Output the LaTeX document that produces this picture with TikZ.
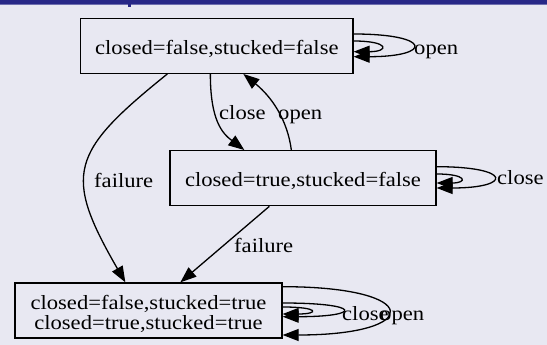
\documentclass[tikz,border=0pt]{standalone}
\usepackage{fontspec}
\setmainfont{Liberation Serif}[FakeStretch=1.12]
\usetikzlibrary{arrows.meta,calc}
\definecolor{bgc}{RGB}{232,232,242}
\definecolor{band}{RGB}{40,40,135}
\definecolor{bandlight}{RGB}{110,110,175}
\begin{document}
\begin{tikzpicture}[x=1pt,y=-1pt,
  every node/.style={font=\fontsize{20.2}{20.5}\selectfont},
  box/.style={draw, line width=1.3pt, inner sep=0pt, minimum height=55pt},
  lbl/.style={inner sep=0pt, anchor=base west},
  edge/.style={line width=1.3pt, -{Triangle[length=16pt,width=12pt]}}]
\useasboundingbox (0,0) rectangle (547,345);
\fill[bgc] (0,0) rectangle (547,345);
\fill[band] (0,0) rectangle (547,4.3);
\fill[bandlight] (0,4.3) rectangle (547,5.3);
\fill[band] (127.7,4) rectangle (130.8,6.8);
% states
\node[box, minimum width=272.3pt] (T) at (216.85,45.8) {\smash{\raisebox{-9pt}{closed=false,stucked=false}}};
\node[box, minimum width=266pt] (M) at (303,178.2) {\smash{\raisebox{-8.5pt}{closed=true,stucked=false}}};
\node[box, minimum width=267pt] (B) at (148.5,310.5) {\smash{\raisebox{1.5pt}{\begin{tabular}[t]{@{}c@{}}closed=false,stucked=true\\closed=true,stucked=true\end{tabular}}}};
% transitions between states
\draw[edge] ($(T.south west)+(130.3,0)$) .. controls +(0,46.7) and +(-22,-16.7) .. ($(M.north west)+(75,0)$);
\draw[edge] ($(M.north west)+(122,0)$) .. controls +(-4,-30.7) and +(28,22.7) .. ($(T.south west)+(163.3,0)$);
\draw[edge] ($(T.south west)+(87.3,0)$) .. controls +(-97.5,78.5) and +(-62.5,-108.2) .. ($(B.north west)+(111,0)$);
\draw[edge] ($(M.south west)+(100,0)$) -- ($(B.north west)+(166,0)$);
% self loops
\draw[edge] ($(T.east)+(0,-11.8)$) .. controls +(79,0) and +(79,0) .. ($(T.east)+(0,10.9)$);
\draw[edge] ($(T.east)+(0,-4.8)$) .. controls +(36,0) and +(36,0) .. ($(T.east)+(0,5.9)$);
\draw[edge] ($(M.east)+(0,-11.5)$) .. controls +(76,0) and +(76,0) .. ($(M.east)+(0,9.8)$);
\draw[edge] ($(M.east)+(0,-4.2)$) .. controls +(31,0) and +(31,0) .. ($(M.east)+(0,4.8)$);
\draw[edge] ($(B.east)+(0,-23.8)$) .. controls +(141,0) and +(141,0) .. ($(B.east)+(0,24.5)$);
\draw[edge] ($(B.east)+(0,-7.5)$) .. controls +(80,0) and +(80,0) .. ($(B.east)+(0,6.2)$);
\draw[edge] ($(B.east)+(0,-3.5)$) .. controls +(37,0) and +(37,0) .. ($(B.east)+(0,3.5)$);
% labels
\node[lbl] (lclose1) at (219,120) {close};
\node[lbl] (lopen1) at (278,120) {open};
\node[lbl] (lfail1) at (94,187) {failure};
\node[lbl] (lfail2) at (234,252.7) {failure};
\node[lbl] (lopenT) at (414,55) {open};
\node[lbl] (lcloseM) at (497,184) {close};
\node[lbl] (lcloseB) at (342,320) {close};
\node[lbl] (lopenB) at (380,320) {open};
\end{tikzpicture}
\end{document}
